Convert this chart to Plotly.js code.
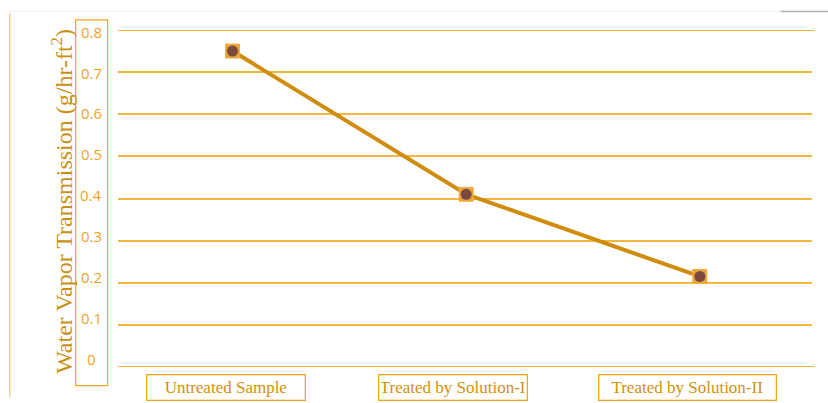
<!DOCTYPE html>
<html><head><meta charset="utf-8">
<script src="https://cdn.plot.ly/plotly-3.0.1.min.js"></script>
<style>body{margin:0;background:#fff}#c{width:828px;height:403px}</style>
</head><body><div id="c"></div>
<script>
const categories = ["Untreated Sample", "Treated by Solution-I", "Treated by Solution-II"];
const wvt = [0.75, 0.41, 0.215];
const tickVals = [0, 0.1, 0.2, 0.3, 0.4, 0.5, 0.6, 0.7, 0.8];
const tickText = ["0", "0.1", "0.2", "0.3", "0.4", "0.5", "0.6", "0.7", "0.8"];
const yTitle = "Water Vapor Transmission (g/hr-ft<sup>2</sup>)";

const orange = "#f0a81e";
const gridCol = "#f3b73c";
const lineCol = "#d08c0c";
const labelBoxW = [153, 143, 172];
const labelShift = [-7, -13, -12];

const traces = [
  {x: categories, y: wvt, type: "scatter", mode: "lines",
   line: {color: lineCol, width: 4}, hoverinfo: "skip"},
  {x: categories, y: wvt, type: "scatter", mode: "markers",
   marker: {symbol: "square", size: 14, color: "#e8a23a", line: {color: "#f0b040", width: 1}}},
  {x: categories, y: wvt, type: "scatter", mode: "markers",
   marker: {symbol: "circle", size: 11, color: "#7b4a3c", line: {width: 0}}}
];

const annotations = categories.map((c, i) => ({
  x: i, y: 0, xref: "x", yref: "y", yshift: -20.5, xshift: labelShift[i],
  text: c, showarrow: false, width: labelBoxW[i], height: 20,
  font: {family: "Liberation Serif", size: 17, color: "#d4900e"},
  bordercolor: orange, borderwidth: 1.3, borderpad: 2,
  bgcolor: "#ffffff"
}));
tickVals.forEach((v, i) => annotations.push({
  x: 0, xref: "paper", xshift: -27, y: v, yref: "y", yshift: 8 - 12 * v,
  text: tickText[i], showarrow: false, xanchor: "center",
  font: {family: "Open Sans", size: 15, color: "#f0a41a"}
}));
annotations.push({
  x: 0, xref: "paper", xshift: -73, y: 0.49, yref: "paper",
  text: yTitle, textangle: -90, showarrow: false,
  font: {family: "Liberation Serif", size: 24, color: "#c99016"}
});

const layout = {
  width: 828, height: 403,
  margin: {l: 118, r: 16, t: 30, b: 36},
  paper_bgcolor: "#ffffff", plot_bgcolor: "#ffffff",
  showlegend: false,
  xaxis: {type: "category", showticklabels: false, showgrid: false, zeroline: false,
          showline: false, ticks: "", range: [-0.49, 2.48], fixedrange: true},
  yaxis: {range: [0, 0.8], tickvals: tickVals, showticklabels: false,
          gridcolor: gridCol, gridwidth: 2, zeroline: false, showline: false, ticks: ""},
  annotations: annotations,
  shapes: [
    {type: "rect", xref: "paper", yref: "paper", x0: -0.061, x1: -0.015, y0: -0.055, y1: 1.03,
     line: {color: orange, width: 1.2}},
    {type: "line", xref: "paper", yref: "y", x0: 0, x1: 1.004, y0: 0, y1: 0,
     line: {color: gridCol, width: 2}},
    {type: "line", xref: "paper", yref: "y", x0: 0, x1: 1.004, y0: 0.8, y1: 0.8,
     line: {color: gridCol, width: 2}},
    {type: "line", xref: "paper", yref: "paper", x0: -0.156, x1: -0.156, y0: -0.09, y1: 1.05,
     line: {color: "#f6cf8a", width: 1.5}},
    {type: "line", xref: "paper", yref: "paper", x0: 0.955, x1: 1.03, y0: 1.055, y1: 1.055,
     line: {color: "#b8b0a8", width: 1.5}},
    {type: "line", xref: "paper", yref: "paper", x0: -0.156, x1: 0.955, y0: 1.055, y1: 1.055,
     line: {color: "#f6eee8", width: 1}}
  ]
};

Plotly.newPlot("c", traces, layout, {displayModeBar: false, staticPlot: true});
</script></body></html>
